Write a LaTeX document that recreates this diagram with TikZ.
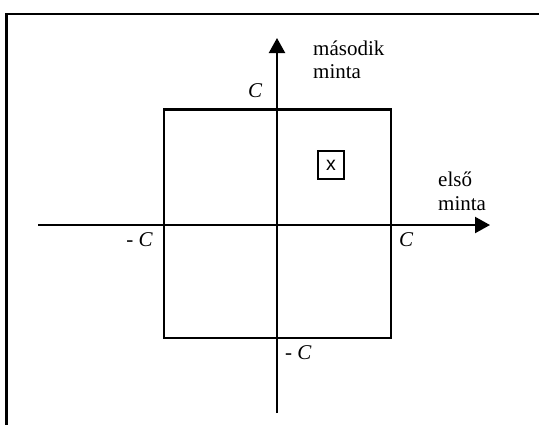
\documentclass[tikz,border=0pt]{standalone}
\usepackage{fontspec}
\setmainfont{Liberation Serif}
\newfontfamily\arialfont{Liberation Sans}
\usetikzlibrary{arrows.meta}
\begin{document}
\begin{tikzpicture}[x=1bp,y=-1bp,
  thick line/.style={line width=2.2bp, line cap=rect},
  axis/.style={line width=2.2bp, -{Triangle[length=15bp,width=16bp]}},
  lbl/.style={inner sep=0pt, font=\fontsize{21bp}{23.5bp}\selectfont},
  boxlbl/.style={draw, line width=2bp, inner sep=0pt, minimum width=26bp, minimum height=28bp, font=\arialfont\fontsize{19.5bp}{22bp}\selectfont}]
\useasboundingbox (0,0) rectangle (539,424);
% frame
\coordinate (fbl) at (6.5,430);
\coordinate (ftl) at (6.5,14);
\coordinate (ftr) at (545,14);
\draw[line width=2.5bp] (fbl) -- (ftl) -- (ftr);
% square
\coordinate (sq1) at (164,109.5);
\coordinate (sq2) at (391,338);
\draw[thick line] (sq1) rectangle (sq2);
% axes
\coordinate (xs) at (38,225);
\coordinate (xe) at (490,225);
\coordinate (ys) at (277,413);
\coordinate (ye) at (277,38);
\draw[axis] (xs) -- (xe);
\draw[axis] (ys) -- (ye);
% labels
\node[lbl, anchor=west, align=left] (ylab) at (313,60) {második\\minta};
\node[lbl, anchor=west, align=left] (xlab) at (438,191.5) {első\\minta};
\node[lbl] (ctop) at (255,91) {\itshape C};
\node[lbl, anchor=east] (cleft) at (153,240) {- \textit{C}};
\node[lbl] (cright) at (406,240) {\itshape C};
\node[lbl, anchor=west] (cbot) at (285,353) {- \textit{C}};
\node[boxlbl] (pt) at (331,165) {x};
\end{tikzpicture}
\end{document}
